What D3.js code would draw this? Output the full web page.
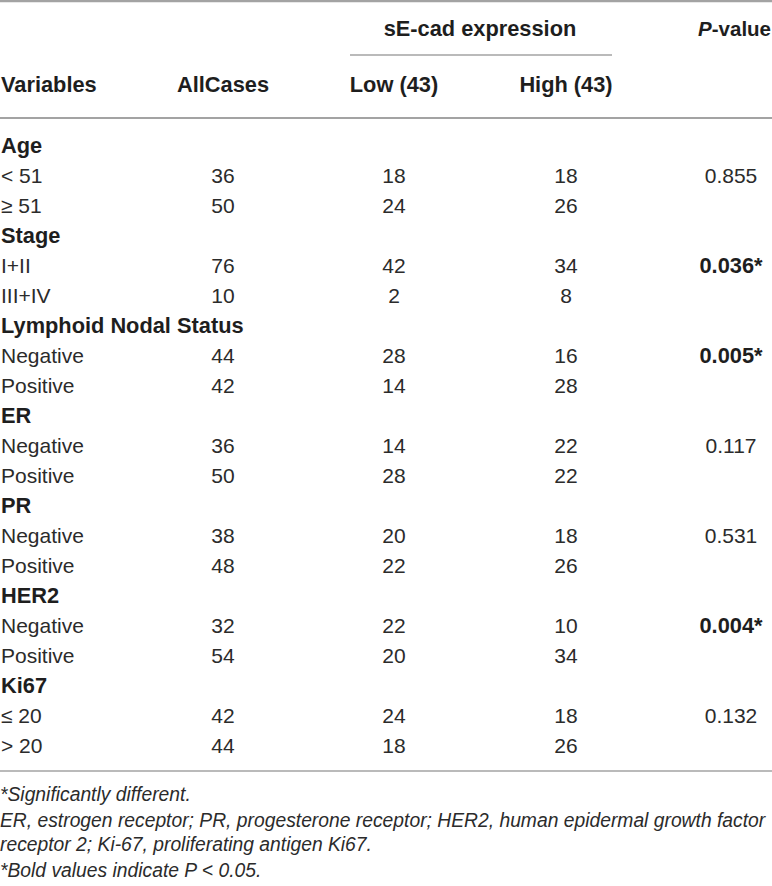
<!DOCTYPE html>
<html>
<head>
<meta charset="utf-8">
<script src="https://cdn.jsdelivr.net/npm/d3@7"></script>
<style>
  body { margin: 0; background: #fff; }
  text { font-family: "Liberation Sans", Arial, sans-serif; fill: #2b2b2b; }
  text.bold { fill: #1e1e1e; font-weight: bold; }
</style>
</head>
<body>
<div id="table"></div>
<script>
// table contents
const groups = ["Age", "Stage", "Lymphoid Nodal Status", "ER", "PR", "HER2", "Ki67"];
const subLabels = [
  ["< 51", "≥ 51"], ["I+II", "III+IV"], ["Negative", "Positive"],
  ["Negative", "Positive"], ["Negative", "Positive"], ["Negative", "Positive"],
  ["≤ 20", "> 20"]
];
const allCases = [36, 50, 76, 10, 44, 42, 36, 50, 38, 48, 32, 54, 42, 44];
const lowExpr = [18, 24, 42, 2, 28, 14, 14, 28, 20, 22, 22, 20, 24, 18];
const highExpr = [18, 26, 34, 8, 16, 28, 22, 22, 18, 26, 10, 34, 18, 26];
const pValues = ["0.855", "0.036*", "0.005*", "0.117", "0.531", "0.004*", "0.132"];
const significant = [false, true, true, false, false, true, false];
const columnHeads = ["Variables", "AllCases", "Low (43)", "High (43)"];
const footnotes = [
  "*Significantly different.",
  "ER, estrogen receptor; PR, progesterone receptor; HER2, human epidermal growth factor",
  "receptor 2; Ki-67, proliferating antigen Ki67.",
  "*Bold values indicate P < 0.05."
];

const width = 772, height = 886;
const boldSize = "21.8px", plainSize = "21px";

const svg = d3.select("#table")
  .append("svg")
  .attr("width", width)
  .attr("height", height);

//column centres for the numeric columns
const col = d3.scaleOrdinal()
  .domain(["all", "low", "high", "p"])
  .range([223, 394, 566, 731]);

//row baselines, one row per group title and per sub row
const nRows = groups.length * 3;
const y = d3.scaleLinear().domain([0, nRows - 1]).range([153, 753]);

const lineColor = "#a3a3a3";

//rules
svg.append("line").attr("x1", 0).attr("x2", width).attr("y1", 1).attr("y2", 1)
  .attr("stroke", lineColor).attr("stroke-width", 2.5);
svg.append("line").attr("x1", 350).attr("x2", 612).attr("y1", 55).attr("y2", 55)
  .attr("stroke", lineColor).attr("stroke-width", 1.5);
svg.append("line").attr("x1", 0).attr("x2", width).attr("y1", 118).attr("y2", 118)
  .attr("stroke", lineColor).attr("stroke-width", 2);
svg.append("line").attr("x1", 0).attr("x2", width).attr("y1", 771).attr("y2", 771)
  .attr("stroke", lineColor).attr("stroke-width", 1.5);

//header
svg.append("text")
  .attr("class", "bold")
  .attr("x", (col("low") + col("high")) / 2).attr("y", 36)
  .attr("text-anchor", "middle")
  .style("font-size", boldSize)
  .text("sE-cad expression");

const pHead = svg.append("text")
  .attr("class", "bold")
  .attr("x", 771).attr("y", 36)
  .attr("text-anchor", "end")
  .style("font-size", "20.5px");
pHead.append("tspan").style("font-style", "italic").text("P");
pHead.append("tspan").text("-value");

svg.selectAll(".colHead")
  .data(columnHeads)
  .enter()
  .append("text")
  .attr("class", "colHead bold")
  .attr("x", (d, i) => i === 0 ? 1 : col(["all", "low", "high"][i - 1]))
  .attr("y", 92)
  .attr("text-anchor", (d, i) => i === 0 ? "start" : "middle")
  .style("font-size", boldSize)
  .text((d) => d);

//body rows
const body = svg.append("g");

groups.forEach((g, gi) => {
  const r = gi * 3;
  body.append("text")
    .attr("class", "bold")
    .attr("x", 1).attr("y", y(r))
    .style("font-size", boldSize)
    .text(g);

  subLabels[gi].forEach((lab, k) => {
    const idx = gi * 2 + k;
    const yy = y(r + 1 + k);
    body.append("text").attr("x", 1).attr("y", yy)
      .style("font-size", plainSize).text(lab);
    [["all", allCases], ["low", lowExpr], ["high", highExpr]].forEach(([key, arr]) => {
      body.append("text")
        .attr("x", col(key)).attr("y", yy)
        .attr("text-anchor", "middle")
        .style("font-size", plainSize)
        .text(arr[idx]);
    });
  });

  body.append("text")
    .attr("class", significant[gi] ? "bold" : null)
    .attr("x", col("p")).attr("y", y(r + 1))
    .attr("text-anchor", "middle")
    .style("font-size", significant[gi] ? boldSize : plainSize)
    .text(pValues[gi]);
});

//footnotes
const noteY = [801, 827, 851, 877];
svg.selectAll(".note")
  .data(footnotes)
  .enter()
  .append("text")
  .attr("class", "note")
  .attr("x", 0)
  .attr("y", (d, i) => noteY[i])
  .style("font-size", "19.3px")
  .style("font-style", "italic")
  .text((d) => d);
</script>
</body>
</html>
